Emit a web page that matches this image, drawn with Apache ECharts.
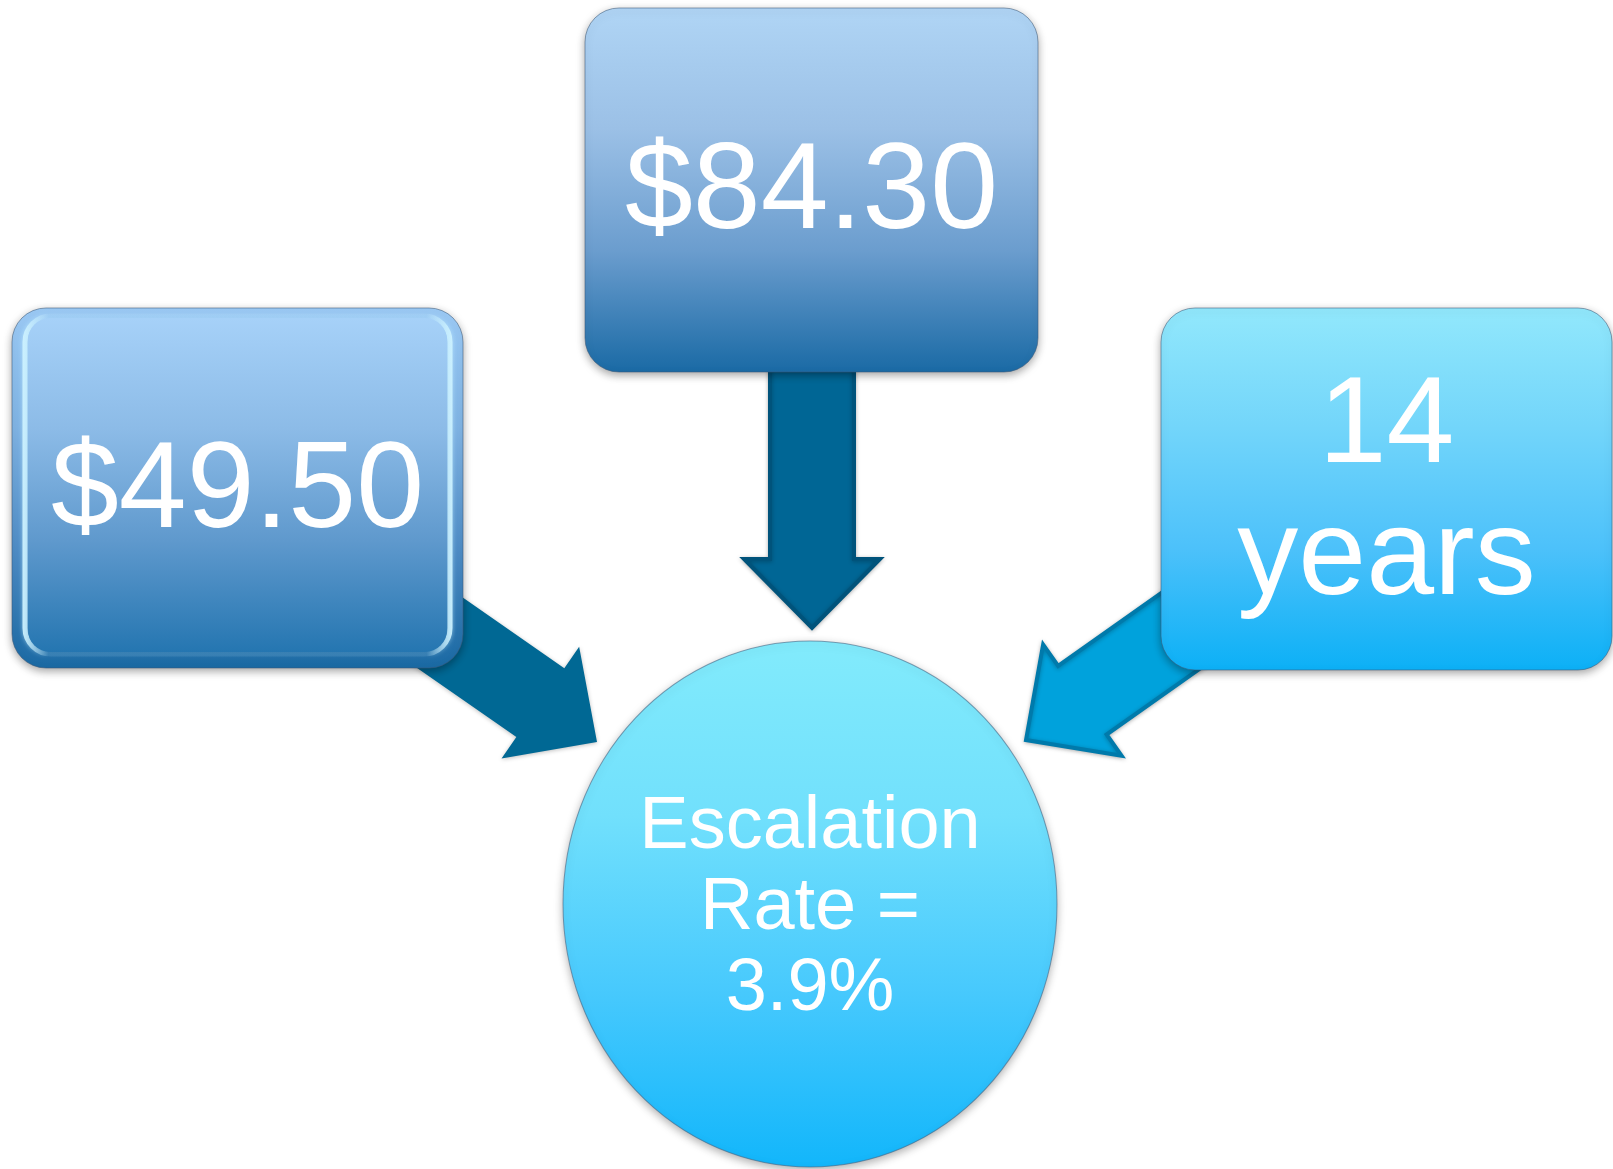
<!DOCTYPE html>
<html>
<head>
<meta charset="utf-8">
<style>
html, body { margin: 0; padding: 0; background: #fff; }
#canvas { width: 1613px; height: 1169px; }
</style>
<script src="https://cdn.jsdelivr.net/npm/echarts@6/dist/echarts.min.js"></script>
</head>
<body>
<div id="canvas"></div>
<script>
// inputs feeding the result
var inputLabels = ['$49.50', '$84.30', '14\nyears'];
var resultLines = ['Escalation', 'Rate =', '3.9%'];

// where each input box sits, and its colour ramp (top -> bottom)
var boxLayout = [
    { x: 12, y: 308, w: 451, h: 360, bevel: true,
      stops: ['#9ccbf6', '#7fb3e3', '#4f8dc6', '#1a69a3'] },
    { x: 585, y: 8, w: 453, h: 364, bevel: false,
      stops: ['#b0d5f5', '#9bc0e6', '#6b9dce', '#1a6aa5'] },
    { x: 1161, y: 308, w: 451, h: 362, bevel: false,
      stops: ['#92e8fc', '#72d5fa', '#4cc1fa', '#0cb0f6'] }
];
// arrows: tip point, direction, colours
var arrowLayout = [
    { tip: [597, 742], dir: [0.82, 0.57], fill: '#006894', stroke: null },
    { tip: [812, 628], dir: [0, 1], fill: '#006695', stroke: '#00537b' },
    { tip: [1026, 740], dir: [-0.817, 0.577], fill: '#00a2dc', stroke: '#007aab' }
];
var result = { cx: 810, cy: 904, rx: 247, ry: 263 };

function grad(stops) {
    return new echarts.graphic.LinearGradient(0, 0, 0, 1, stops.map(function (c, i) {
        return { offset: i / (stops.length - 1), color: c };
    }));
}

function arrowPoints(a) {
    var l = Math.sqrt(a.dir[0] * a.dir[0] + a.dir[1] * a.dir[1]);
    var d = [a.dir[0] / l, a.dir[1] / l], n = [-d[1], d[0]];
    var sw = 42, hw = 68, hl = 69, len = 260;
    var t = a.tip;
    var b = [t[0] - d[0] * hl, t[1] - d[1] * hl];
    var e = [t[0] - d[0] * len, t[1] - d[1] * len];
    function p(o, k) { return [o[0] + n[0] * k, o[1] + n[1] * k]; }
    return [p(e, sw), p(b, sw), p(b, hw), t, p(b, -hw), p(b, -sw), p(e, -sw)];
}

var elements = [];

arrowLayout.forEach(function (a) {
    elements.push({
        type: 'polygon', z: 1,
        shape: { points: arrowPoints(a) },
        style: {
            fill: a.fill, stroke: a.stroke || a.fill, lineWidth: a.stroke ? 4 : 0,
            lineJoin: 'miter', shadowBlur: 4, shadowColor: 'rgba(0,0,0,0.25)', shadowOffsetY: 1
        }
    });
});

boxLayout.forEach(function (b, i) {
    elements.push({
        type: 'rect', z: 2,
        shape: { x: b.x, y: b.y, width: b.w, height: b.h, r: 34 },
        style: {
            fill: grad(b.stops), stroke: 'rgba(60,90,120,0.55)', lineWidth: 1,
            shadowBlur: 8, shadowColor: 'rgba(0,0,0,0.35)', shadowOffsetY: 3
        }
    });
    if (b.bevel) {
        // soft inner bevel: light side strips
        elements.push({
            type: 'rect', z: 3,
            shape: { x: b.x + 13, y: b.y + 8, width: b.w - 26, height: b.h - 22, r: 26 },
            style: {
                fill: 'none',
                stroke: new echarts.graphic.LinearGradient(0, 0, 1, 0, [
                    { offset: 0, color: 'rgba(205,242,255,0.95)' },
                    { offset: 0.06, color: 'rgba(205,242,255,0.1)' },
                    { offset: 0.94, color: 'rgba(205,242,255,0.1)' },
                    { offset: 1, color: 'rgba(205,242,255,0.95)' }
                ]),
                lineWidth: 5, shadowBlur: 4, shadowColor: 'rgba(200,240,255,0.6)'
            }
        });
        elements.push({
            type: 'rect', z: 3,
            shape: { x: b.x + 16, y: b.y + 10, width: b.w - 32, height: b.h - 26, r: 22 },
            style: {
                fill: grad(['#a6d1f8', '#8cbbe7', '#5f99cd', '#2576b1'])
            }
        });
    }
    elements.push({
        type: 'text', z: 5,
        x: b.x + b.w / 2,
        y: b.y + b.h / 2 + (i === 1 ? 4 : 5),
        style: {
            text: inputLabels[i], fill: '#ffffff',
            fontSize: 122, fontFamily: '"Liberation Sans", Arial, sans-serif',
            align: 'center', verticalAlign: 'middle', lineHeight: 132
        }
    });
});

elements.push({
    type: 'circle', z: 2,
    x: result.cx, y: result.cy, scaleY: result.ry / result.rx,
    shape: { cx: 0, cy: 0, r: result.rx },
    style: {
        fill: grad(['#82ebfc', '#71e0fc', '#47c9fd', '#12b6fb']),
        stroke: 'rgba(70,100,130,0.6)', lineWidth: 1,
        shadowBlur: 8, shadowColor: 'rgba(0,0,0,0.3)', shadowOffsetY: 3
    }
});
elements.push({
    type: 'text', z: 5,
    x: result.cx, y: result.cy + 5,
    style: {
        text: resultLines.join('\n'), fill: '#ffffff',
        fontSize: 74, fontFamily: '"Liberation Sans", Arial, sans-serif',
        align: 'center', verticalAlign: 'middle', lineHeight: 81
    }
});

var myChart = echarts.init(document.getElementById('canvas'));
option = {
    backgroundColor: '#ffffff',
    graphic: { elements: elements }
};
myChart.setOption(option);
</script>
</body>
</html>
